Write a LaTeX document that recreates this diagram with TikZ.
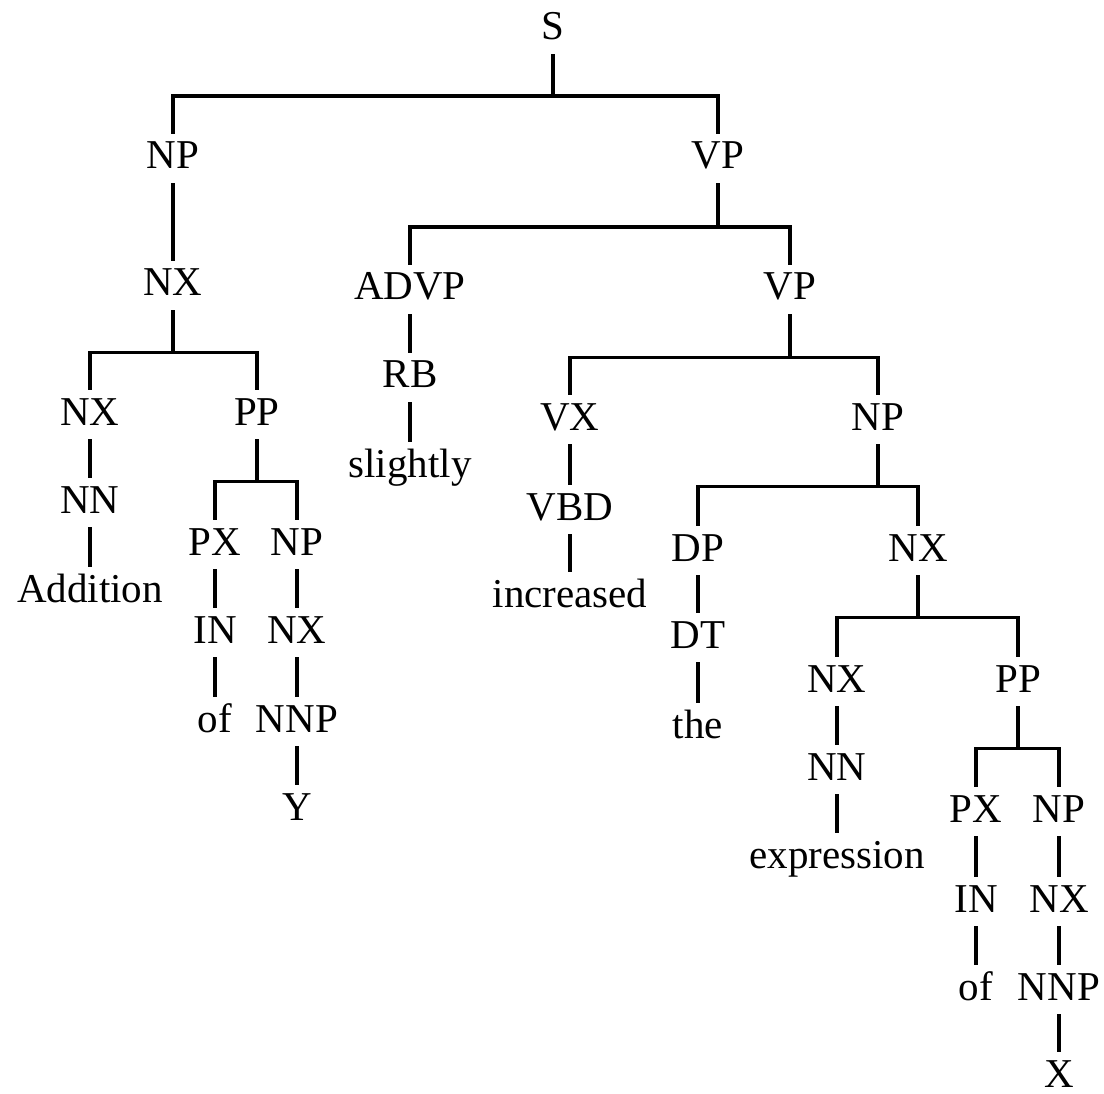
\documentclass[tikz,border=0pt]{standalone}
\usepackage{fontspec}
\setmainfont{Liberation Serif}
\begin{document}
\begin{tikzpicture}[x=1pt,y=-1pt,
  lab/.style={anchor=base, inner xsep=0pt, inner ysep=8pt, text height=27pt, text depth=6pt,
    font=\fontsize{41}{49}\selectfont},
  leaf/.style={lab, inner ysep=0pt, text depth=0pt, yshift=0pt},
  edge/.style={line width=3.4pt}]
\useasboundingbox (0,0) rectangle (1104,1094);
% nodes (x = centre, y = baseline)
\node[lab] (s) at (553,40) {S};
\node[lab] (np1) at (173,169) {NP};
\node[lab] (vp1) at (718,169) {VP};
\node[lab] (nx1) at (173,296) {NX};
\node[lab] (nx2) at (90,425) {NX};
\node[lab] (pp1) at (257,425) {PP};
\node[lab] (nn1) at (90,513) {NN};
\node[lab] (waddition) at (90,602) {Addition};
\node[lab] (px1) at (215,555) {PX};
\node[lab] (np2) at (297,555) {NP};
\node[lab] (in1) at (215,643) {IN};
\node[lab] (wof1) at (215,732) {of};
\node[lab] (nx3) at (297,643) {NX};
\node[lab] (nnp1) at (297,732) {NNP};
\node[lab] (wy) at (297,820) {Y};
\node[lab] (advp) at (410,300) {ADVP};
\node[lab] (vp2) at (790,300) {VP};
\node[lab] (rb) at (410,388) {RB};
\node[lab] (wslightly) at (410,477) {slightly};
\node[lab] (vx) at (570,430) {VX};
\node[lab] (np3) at (878,430) {NP};
\node[lab] (vbd) at (570,520) {VBD};
\node[lab] (wincreased) at (570,607) {increased};
\node[lab] (dp) at (698,561) {DP};
\node[lab] (nx4) at (918,561) {NX};
\node[lab] (dt) at (698,648) {DT};
\node[lab] (wthe) at (698,738) {the};
\node[lab] (nx5) at (837,692) {NX};
\node[lab] (pp2) at (1018,692) {PP};
\node[lab] (nn2) at (837,780) {NN};
\node[lab] (wexpression) at (837,868) {expression};
\node[lab] (px2) at (976,822) {PX};
\node[lab] (np4) at (1059,822) {NP};
\node[lab] (in2) at (976,912) {IN};
\node[lab] (wof2) at (976,1000) {of};
\node[lab] (nx6) at (1059,912) {NX};
\node[lab] (nnp2) at (1059,1000) {NNP};
\node[leaf, inner ysep=8pt] (wx) at (1059,1087) {X};
% binary branchings
\draw[edge] (s.south) -- ++(0,42) coordinate (sbar);
\draw[edge] (np1.north) |- (sbar) -| (vp1.north);
\draw[edge] (nx1.south) -- ++(0,42) coordinate (nx1bar);
\draw[edge] (nx2.north) |- (nx1bar) -| (pp1.north);
\draw[edge] (pp1.south) -- ++(0,42) coordinate (pp1bar);
\draw[edge] (px1.north) |- (pp1bar) -| (np2.north);
\draw[edge] (vp1.south) -- ++(0,44) coordinate (vp1bar);
\draw[edge] (advp.north) |- (vp1bar) -| (vp2.north);
\draw[edge] (vp2.south) -- ++(0,43) coordinate (vp2bar);
\draw[edge] (vx.north) |- (vp2bar) -| (np3.north);
\draw[edge] (np3.south) -- ++(0,42) coordinate (np3bar);
\draw[edge] (dp.north) |- (np3bar) -| (nx4.north);
\draw[edge] (nx4.south) -- ++(0,42) coordinate (nx4bar);
\draw[edge] (nx5.north) |- (nx4bar) -| (pp2.north);
\draw[edge] (pp2.south) -- ++(0,42) coordinate (pp2bar);
\draw[edge] (px2.north) |- (pp2bar) -| (np4.north);
% unary branchings
\draw[edge] (np1.south) -- (nx1.north);
\draw[edge] (nx2.south) -- (nn1.north);
\draw[edge] (nn1.south) -- (waddition.north);
\draw[edge] (px1.south) -- (in1.north);
\draw[edge] (in1.south) -- (wof1.north);
\draw[edge] (np2.south) -- (nx3.north);
\draw[edge] (nx3.south) -- (nnp1.north);
\draw[edge] (nnp1.south) -- (wy.north);
\draw[edge] (advp.south) -- (rb.north);
\draw[edge] (rb.south) -- (wslightly.north);
\draw[edge] (vx.south) -- (vbd.north);
\draw[edge] (vbd.south) -- (wincreased.north);
\draw[edge] (dp.south) -- (dt.north);
\draw[edge] (dt.south) -- (wthe.north);
\draw[edge] (nx5.south) -- (nn2.north);
\draw[edge] (nn2.south) -- (wexpression.north);
\draw[edge] (px2.south) -- (in2.north);
\draw[edge] (in2.south) -- (wof2.north);
\draw[edge] (np4.south) -- (nx6.north);
\draw[edge] (nx6.south) -- (nnp2.north);
\draw[edge] (nnp2.south) -- (wx.north);
\end{tikzpicture}
\end{document}
